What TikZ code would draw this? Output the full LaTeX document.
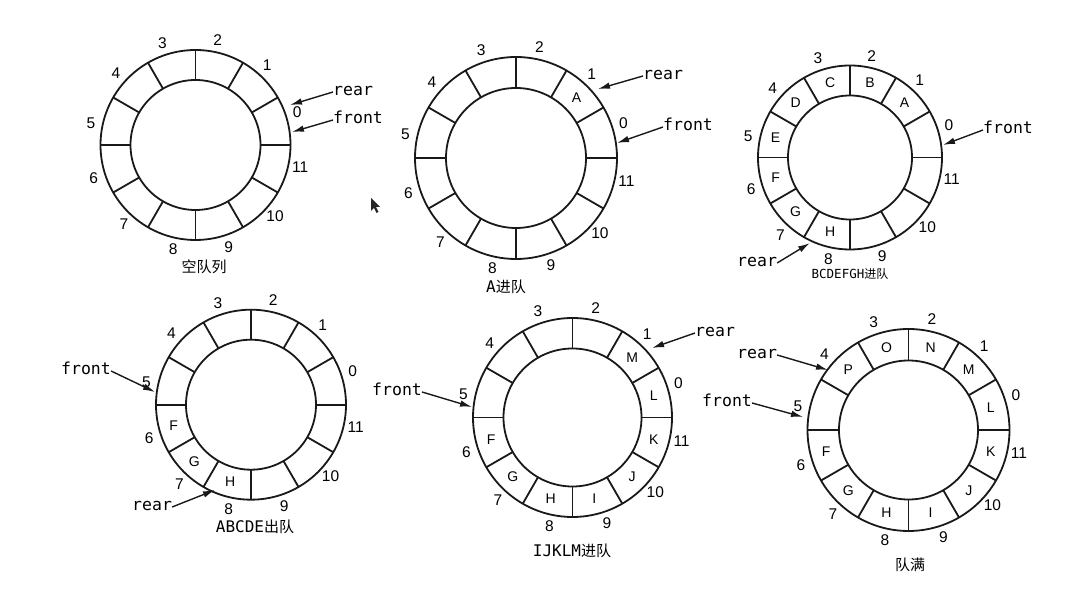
\documentclass[tikz,border=0pt]{standalone}
\usepackage{fontspec}
\setmainfont{Liberation Sans}
\newfontfamily\monof{DejaVu Sans Mono}
\newfontfamily\cjk{Noto Sans CJK SC}
\usetikzlibrary{arrows.meta}
\tikzset{
  ring/.style={line width=1.8pt, black!90},
  num/.style={font=\fontsize{15.5}{16}\selectfont, inner sep=0pt, text=black},
  let/.style={font=\fontsize{14}{14}\selectfont, inner sep=0pt, text=black},
  lab/.style={font=\monof\fontsize{16.5}{17}\selectfont, inner sep=0pt, anchor=base west, text=black},
  capt/.style={inner sep=0pt, text=black},
  ptr/.style={line width=1.4pt, black!90, -{Latex[length=12pt,width=6.5pt]}}
}
\newcommand{\qring}[3]{%
  \draw[ring] (0,0) circle[radius=#2pt];
  \draw[ring] (0,0) circle[radius=#3pt];
  \foreach \a in {0,30,...,330} \draw[ring] (\a:#3pt) -- (\a:#2pt);
  \foreach \k in {0,...,11} \node[num] (#1n\k) at ({18+30*\k}:{#2pt+12pt}) {\k};}
\newcommand{\qlet}[4]{%
  \foreach \k/\c in {#4} \node[let] (#1l\k) at ({15+30*\k}:{(#2pt+#3pt)/2}) {\c};}
\newcommand{\capm}[1]{{\monof\fontsize{16}{16}\selectfont #1}}
\newcommand{\capc}[1]{{\cjk\fontsize{15}{15}\selectfont #1}}
\begin{document}
\begin{tikzpicture}[x=1pt,y=1pt]
\useasboundingbox (0,0) rectangle (1076,602);
\fill[white] (0,0) rectangle (1076,602);
% ring 1
\begin{scope}[shift={(195.5,457)}]
  \qring{a}{95}{65}
\end{scope}
\node[lab] (arear) at (333,506) {rear};
\node[lab] (afront) at (333,478) {front};
\coordinate (areartip) at (290,497);
\coordinate (afronttip) at (292,470);
\draw[ptr] ([yshift=4pt]arear.base west) -- (areartip);
\draw[ptr] ([yshift=4pt]afront.base west) -- (afronttip);
\node[capt] (acap) at (204,335) {\capc{空队列}};
% ring 2
\begin{scope}[shift={(516,444)}]
  \qring{b}{101}{70}
  \qlet{b}{101}{70}{1/A}
\end{scope}
\node[lab] (brear) at (643,522) {rear};
\node[lab] (bfront) at (663,471) {front};
\coordinate (breartip) at (598,513);
\coordinate (bfronttip) at (617,459);
\draw[ptr] ([yshift=4pt]brear.base west) -- (breartip);
\draw[ptr] ([yshift=4pt]bfront.base west) -- (bfronttip);
\node[capt] (bcap) at (506,315) {\capm{A}\capc{进队}};
% ring 3
\begin{scope}[shift={(850,444.5)}]
  \qring{c}{92}{62}
  \qlet{c}{92}{62}{1/A,2/B,3/C,4/D,5/E,6/F,7/G,8/H}
\end{scope}
\node[lab] (cfront) at (983,468) {front};
\node[lab] (crear) at (737,335) {rear};
\coordinate (cfronttip) at (943,457);
\coordinate (creartip) at (810,359);
\draw[ptr] ([yshift=4pt]cfront.base west) -- (cfronttip);
\draw[ptr] ([yshift=4pt]crear.base east) -- (creartip);
\node[capt] (ccap) at (850,328) {{\monof\fontsize{12.5}{13}\selectfont BCDEFGH}{\cjk\fontsize{12}{12}\selectfont 进队}};
% ring 4
\begin{scope}[shift={(251,197.3)}]
  \qring{d}{95}{65}
  \qlet{d}{95}{65}{6/F,7/G,8/H}
\end{scope}
\node[lab] (dfront) at (61,227) {front};
\node[lab] (drear) at (132,91) {rear};
\coordinate (dfronttip) at (155,210);
\coordinate (dreartip) at (215,112);
\draw[ptr] ([yshift=4pt]dfront.base east) -- (dfronttip);
\draw[ptr] ([yshift=4pt]drear.base east) -- (dreartip);
\node[capt] (dcap) at (255,75) {\capm{ABCDE}\capc{出队}};
% ring 5
\begin{scope}[shift={(572.5,184.5)}]
  \qring{e}{99.5}{69}
  \qlet{e}{99.5}{69}{1/M,0/L,11/K,10/J,9/I,8/H,7/G,6/F}
\end{scope}
\node[lab] (erear) at (695,265) {rear};
\node[lab] (efront) at (372,206) {front};
\coordinate (ereartip) at (652,254);
\coordinate (efronttip) at (472,195);
\draw[ptr] ([yshift=4pt]erear.base west) -- (ereartip);
\draw[ptr] ([yshift=4pt]efront.base east) -- (efronttip);
\node[capt] (ecap) at (572,51) {\capm{IJKLM}\capc{进队}};
% ring 6
\begin{scope}[shift={(908.5,172)}]
  \qring{f}{101}{69.5}
  \qlet{f}{101}{69.5}{4/P,3/O,2/N,1/M,0/L,11/K,10/J,9/I,8/H,7/G,6/F}
\end{scope}
\node[lab] (frear) at (737,243) {rear};
\node[lab] (ffront) at (702,195) {front};
\coordinate (freartip) at (828,232);
\coordinate (ffronttip) at (803,185);
\draw[ptr] ([yshift=4pt]frear.base east) -- (freartip);
\draw[ptr] ([yshift=4pt]ffront.base east) -- (ffronttip);
\node[capt] (fcap) at (910,37) {\capc{队满}};
% mouse cursor
\fill[black!85] (371,404) -- (371,391) -- (374,394) -- (376.5,389) -- (378.5,390) -- (376,395) -- (380,395) -- cycle;
\end{tikzpicture}
\end{document}
